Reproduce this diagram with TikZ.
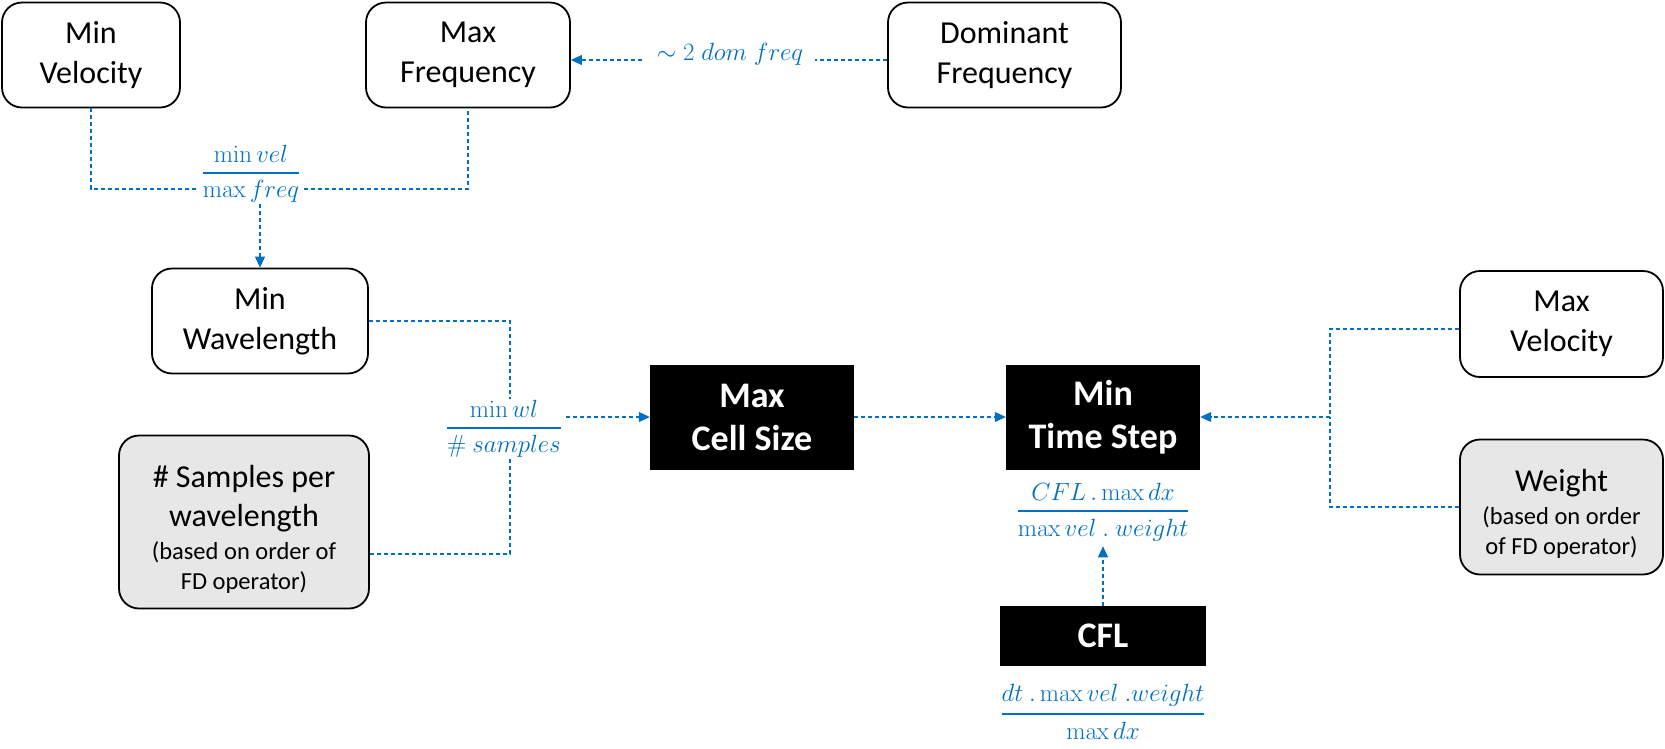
\documentclass[tikz,border=0pt]{standalone}
\usepackage{amsmath}
\usepackage[no-math]{fontspec}
\setmainfont{Carlito}
\usetikzlibrary{arrows.meta,calc}
\definecolor{blue0}{RGB}{0,112,192}
\definecolor{boxgray}{RGB}{231,231,231}
\newcommand\bigfnt{\fontsize{32}{40}\selectfont}
\newcommand\smfnt{\fontsize{24.5}{30}\selectfont}
\newcommand\bldfnt{\fontsize{36}{43}\selectfont\bfseries}
\newcommand\frmfnt{\fontsize{26.5}{31}\selectfont}
\newcommand\thickbar{\fontdimen8\textfont3=2.2pt }
\begin{document}
\begin{tikzpicture}[x=1pt,y=-1pt,
  box/.style={draw=black, line width=1.8pt, rounded corners=20pt, align=center, inner sep=0pt, font=\bigfnt, text=black},
  gbox/.style={box, fill=boxgray},
  blk/.style={fill=black, text=white, align=center, inner sep=0pt, font=\bldfnt},
  conn/.style={draw=blue0, line width=1.1pt, dash pattern=on 4pt off 3pt},
  arr/.style={conn, -{Triangle[length=11pt,width=10pt]}},
  frm/.style={text=blue0, font=\frmfnt, fill=white, inner xsep=4pt, inner ysep=1pt, anchor=base}]
\useasboundingbox (0,0) rectangle (1665,748);

% boxes
\node[box, minimum width=178pt, minimum height=105pt] (minvel) at (91,55) {Min\\Velocity};
\node[box, minimum width=204pt, minimum height=105pt] (maxfreq) at (468,55) {Max\\Frequency};
\node[box, minimum width=233pt, minimum height=105pt] (domfreq) at (1004.5,55) {Dominant\\Frequency};
\node[box, minimum width=216pt, minimum height=105pt] (minwl) at (260,321) {Min\\Wavelength};
\node[gbox, minimum width=250pt, minimum height=173pt] (samples) at (244,522) {\rule{0pt}{36pt}\# Samples per\\[-1pt]wavelength\\[-7pt]{\smfnt (based on order of}\\[-10pt]{\smfnt FD operator)}};
\node[blk, minimum width=204pt, minimum height=105pt] (maxcell) at (752,417) {Max\\Cell Size};
\node[blk, minimum width=194pt, minimum height=105pt] (mints) at (1103,417) {Min\\Time Step};
\node[blk, minimum width=206pt, minimum height=60pt] (cfl) at (1103,636) {CFL};
\node[box, minimum width=203pt, minimum height=106pt] (maxvel) at (1561.5,324) {Max\\Velocity};
\node[gbox, minimum width=203pt, minimum height=135pt] (weight) at (1561.5,507) {\rule{0pt}{36pt}Weight\\[-7pt]{\smfnt (based on order}\\[-10pt]{\smfnt of FD operator)}};

% level coordinates
\coordinate (y60) at (0,60);
\coordinate (h1) at (0,189);
\coordinate (j2) at (510,427);
\coordinate (h554) at (0,554);
\coordinate (y329) at (0,329);
\coordinate (j3) at (1330,417);

% connectors under labels
\draw[arr] (domfreq.west |- y60) -- (maxfreq.east |- y60);
\draw[conn] (minvel.south) |- (h1 -| maxfreq.south) -- (maxfreq.south);
\draw[conn] (minwl.east) -| (j2);
\draw[conn] (samples.east |- h554) -| (j2);
\draw[conn] (maxvel.west |- y329) -| (j3);
\draw[conn] (weight.west) -| (j3);

% labels
\node[frm, inner xsep=12pt] (lbl1) at (730,60) {$\sim 2\;dom\;freq$};
\node[frm] (frac1) at (251,179) {$\thickbar\dfrac{\min vel}{\max freq}$};
\node[frm] (frac2) at (504,434) {$\thickbar\dfrac{\min wl}{\#\ samples}$};
\node[frm] (frm3) at (1103,517.5) {$\thickbar\dfrac{CFL\,.\max dx}{\max vel\ .\ weight}$};
\node[frm] (frm4) at (1103,720.5) {$\thickbar\dfrac{dt\ .\max vel\ .weight}{\max dx}$};

% arrows
\draw[arr] (frac1.south -| minwl.north) -- (minwl.north);
\draw[arr] (frac2.east |- maxcell.west) -- (maxcell.west);
\draw[arr] (maxcell.east) -- (mints.west);
\draw[arr] (mints.east -| j3) -- (mints.east);
\draw[arr] (cfl.north) -- ([yshift=-4pt]frm3.south);
\end{tikzpicture}
\end{document}
